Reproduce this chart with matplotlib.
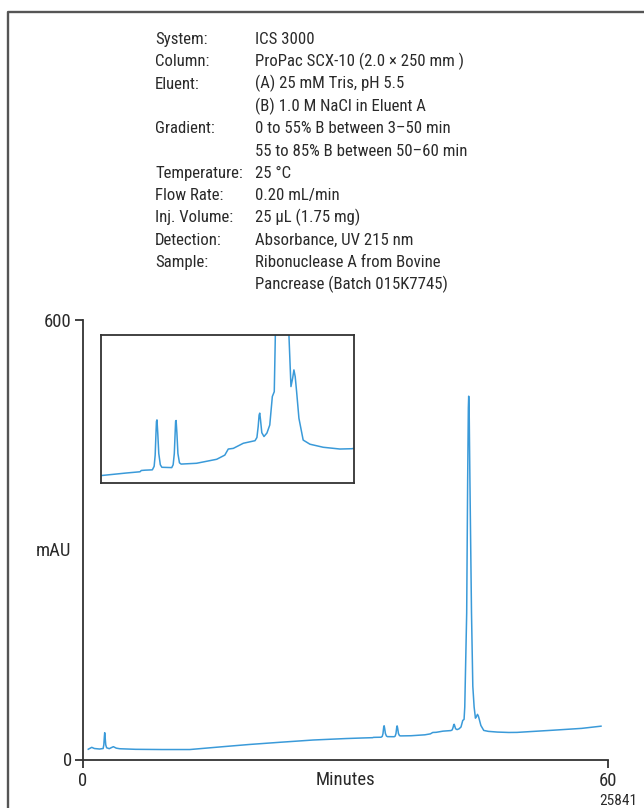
import matplotlib
matplotlib.use("Agg")
import matplotlib.pyplot as plt
from matplotlib import font_manager
from matplotlib.lines import Line2D

# ---------------- data ----------------
time_min = [0.6, 1.0, 1.3, 1.9, 2.3, 2.38, 2.44, 2.48, 2.53, 2.6, 2.7, 3.0, 3.47, 3.8, 4.2,
            6.0, 9.0, 12.2, 16.0, 19.0, 22.5, 26.3, 30.04, 32.0, 33.1, 33.2, 33.5,
            34.06, 34.2, 34.28, 34.34, 34.38, 34.42, 34.48, 34.56, 34.68, 34.8,
            35.57, 35.68, 35.77, 35.83, 35.87, 35.91, 35.97, 36.05, 36.17, 36.3,
            37.5, 39.07, 39.7, 39.97, 40.36, 41.14, 42.05, 42.2, 42.3, 42.37, 42.42,
            42.48, 42.58, 42.75, 42.98, 43.2, 43.4, 43.55, 43.63, 43.85, 43.96, 44.04,
            44.08, 44.13, 44.22, 44.4, 44.55, 44.7, 44.85, 44.98, 45.08, 45.18, 45.29,
            45.47, 45.8, 46.33, 47.36, 48.66, 49.6, 53.75, 57.0, 59.2]
absorbance = [14.0, 16.6, 15.0, 14.3, 15.0, 20.0, 31.0, 36.6, 30.0, 20.0, 16.0, 14.8, 17.5, 15.5, 14.7,
              13.9, 13.6, 13.6, 17.5, 20.5, 23.5, 26.6, 28.6, 29.4, 29.8, 30.2, 30.3,
              30.4, 31.5, 35.0, 41.5, 45.5, 46.0, 42.0, 35.5, 32.0, 31.2,
              31.1, 32.0, 35.5, 41.5, 45.5, 45.8, 42.0, 35.5, 32.6, 32.2,
              32.45, 33.7, 35.0, 36.9, 37.1, 38.7, 39.5, 40.5, 44.0, 47.5, 48.1,
              46.0, 42.0, 40.8, 41.9, 44.4, 53.3, 54.8, 71.6, 200.0, 380.0, 480.0,
              496.0, 480.0, 380.0, 200.0, 100.0, 71.6, 56.4, 59.0, 61.6, 59.5, 54.8,
              46.5, 39.7, 38.4, 37.45, 36.9, 37.0, 40.0, 42.5, 45.5]

x_ticks = [0, 60]
y_ticks = [0, 600]
inset_xlim = (30.04, 49.78)
inset_ylim = (26.2, 72.5)

cond_labels = ["System:", "Column:", "Eluent:", "", "Gradient:", "", "Temperature:",
               "Flow Rate:", "Inj. Volume:", "Detection:", "Sample:", ""]
cond_values = ["ICS 3000", "ProPac SCX-10 (2.0 \u00d7 250 mm )", "(A) 25 mM Tris, pH 5.5",
               "(B) 1.0 M NaCl in Eluent A", "0 to 55% B between 3\u201350 min",
               "55 to 85% B between 50\u201360 min", "25 \u00b0C", "0.20 mL/min",
               "25 \u00b5L (1.75 mg)", "Absorbance, UV 215 nm", "Ribonuclease A from Bovine",
               "Pancrease (Batch 015K7745)"]

# ---------------- fonts ----------------
avail = {f.name for f in font_manager.fontManager.ttflist}
narrow = next((f for f in ["Liberation Sans Narrow", "Roboto Condensed", "Liberation Sans"]
               if f in avail), "DejaVu Sans")
plt.rcParams['font.family'] = [narrow, 'DejaVu Sans']

W, H = 644, 808
fig = plt.figure(figsize=(W / 100, H / 100), dpi=100)
fig.patch.set_facecolor("white")

def fx(px):
    return px / W

def fy(py):
    return (H - py) / H

line_color = "#3a9ad9"
axis_color = "#333333"
text_color = "#2a2a2a"

# outer frame (top and left visible)
fig.add_artist(Line2D([fx(8), fx(8), fx(W + 5)], [fy(H + 5), fy(12), fy(12)],
                      transform=fig.transFigure, color="#555555", lw=1.7))

# conditions text
y0 = 44.0
dy = 22.3
for i, (lab, val) in enumerate(zip(cond_labels, cond_values)):
    yy = y0 + i * dy
    if lab:
        fig.text(fx(155), fy(yy), lab, fontsize=12.1, color=text_color, va="baseline", ha="left")
    fig.text(fx(255), fy(yy), val, fontsize=12.1, color=text_color, va="baseline", ha="left")

# main axes
ax = fig.add_axes([fx(83), fy(759.5), (608 - 83) / W, (759.5 - 320) / H])
ax.plot(time_min, absorbance, color=line_color, lw=1.1)
ax.set_xlim(0, 60)
ax.set_ylim(0, 600)
ax.set_xticks(x_ticks)
ax.set_yticks(y_ticks)
ax.set_xticklabels([str(v) for v in x_ticks])
ax.set_yticklabels([str(v) for v in y_ticks])
for s in ["top", "right"]:
    ax.spines[s].set_visible(False)
for s in ["left", "bottom"]:
    ax.spines[s].set_color(axis_color)
    ax.spines[s].set_linewidth(1.3)
ax.tick_params(axis="both", direction="out", length=6, width=1.3, color=axis_color,
               labelsize=13.5, labelcolor=text_color)
ax.tick_params(axis="x", pad=3)
ax.tick_params(axis="y", pad=2)
ax.patch.set_alpha(0)

fig.text(fx(345.5), fy(771), "Minutes", fontsize=13.5, color=text_color, ha="center", va="top")
fig.text(fx(71), fy(551.5), "mAU", fontsize=13.5, color=text_color, ha="right", va="center")
fig.text(fx(637), fy(805), "25841", fontsize=11, color=text_color, ha="right", va="baseline")

# inset
axi = fig.add_axes([fx(100.7), fy(483.3), (354.3 - 100.7) / W, (483.3 - 335) / H])
axi.plot(time_min, absorbance, color=line_color, lw=1.1)
axi.set_xlim(*inset_xlim)
axi.set_ylim(*inset_ylim)
axi.set_xticks([])
axi.set_yticks([])
for s in axi.spines.values():
    s.set_color(axis_color)
    s.set_linewidth(1.3)

fig.savefig("out.png", dpi=100, facecolor="white")
